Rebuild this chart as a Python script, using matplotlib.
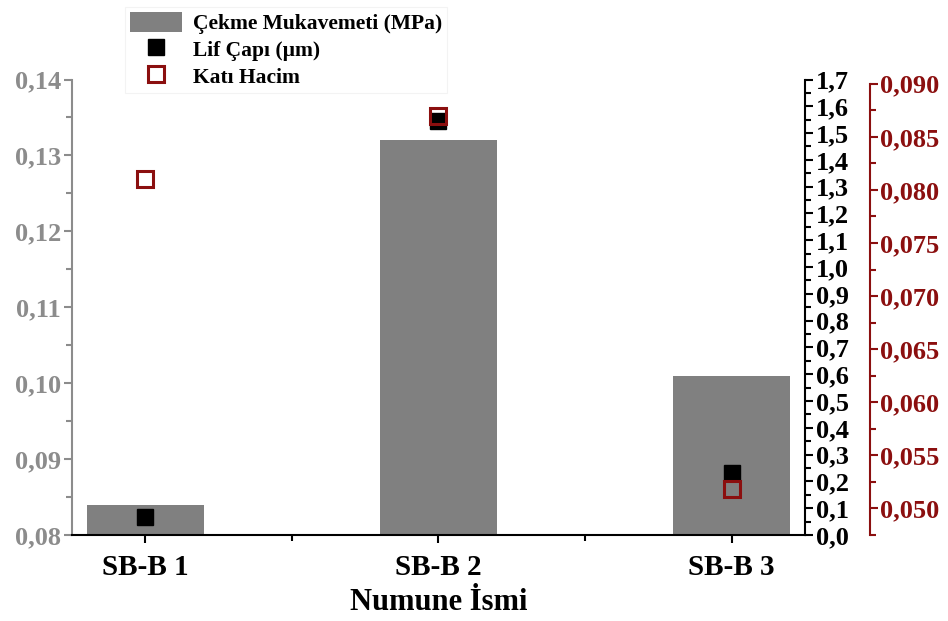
import matplotlib
matplotlib.use("Agg")
import matplotlib.pyplot as plt
from matplotlib.patches import Patch
from matplotlib.lines import Line2D
from matplotlib.ticker import MultipleLocator, FuncFormatter

# numune verileri
numuneler = ["SB-B 1", "SB-B 2", "SB-B 3"]
cekme_mukavemeti = [0.084, 0.132, 0.101]   # MPa
lif_capi = [0.068, 1.545, 0.232]          # um
kati_hacim = [0.0810, 0.0870, 0.0518]

plt.rcParams["font.family"] = ["Liberation Serif", "DejaVu Serif"]
plt.rcParams["font.weight"] = "bold"

GRI = "#8c8c8c"
BAR = "#808080"
KIRMIZI = "#8b0f0f"
FS = 19


def virgul(fmt):
    return FuncFormatter(lambda v, p: (fmt % v).replace(".", ","))


fig = plt.figure(figsize=(9.48, 6.21), dpi=100)
ax = fig.add_axes([72 / 948, 1 - 535 / 621, (805 - 72) / 948, (535 - 79.5) / 621])
ax2 = ax.twinx()
ax3 = ax.twinx()

x = range(1, len(numuneler) + 1)
ax.bar(x, cekme_mukavemeti, width=0.4, color=BAR, zorder=1)
ax.set_xlim(0.75, 3.25)
ax.set_ylim(0.08, 0.14)
ax.set_xticks(list(x))
ax.set_xticklabels(numuneler, fontsize=21, fontweight="bold")
ax.xaxis.set_minor_locator(MultipleLocator(0.5))
ax.set_xlabel("Numune İsmi", fontsize=22, fontweight="bold", labelpad=5)

ax.yaxis.set_major_locator(MultipleLocator(0.01))
ax.yaxis.set_minor_locator(MultipleLocator(0.005))
ax.yaxis.set_major_formatter(virgul("%.2f"))
ax.tick_params(axis="y", which="both", colors=GRI, width=1.5)
ax.tick_params(axis="y", labelcolor=GRI, labelsize=FS, pad=2)
ax.tick_params(axis="x", which="both", width=1.5, pad=8)
ax.tick_params(which="major", length=6)
ax.tick_params(which="minor", length=4)
ax.spines["left"].set_color(GRI)
ax.spines["left"].set_linewidth(1.5)
ax.spines["bottom"].set_linewidth(1.5)
ax.spines["top"].set_visible(False)
ax.spines["right"].set_visible(False)

# lif çapı ekseni
ax2.plot(x, lif_capi, ls="none", marker="s", ms=12, color="black", zorder=2)
ax2.set_ylim(0, 1.7)
ax2.yaxis.set_major_locator(MultipleLocator(0.1))
ax2.yaxis.set_minor_locator(MultipleLocator(0.05))
ax2.yaxis.set_major_formatter(virgul("%.1f"))
ax2.tick_params(axis="y", which="both", width=1.5, labelsize=FS, pad=2)
ax2.tick_params(which="major", length=6)
ax2.tick_params(which="minor", length=4)
ax2.spines["right"].set_linewidth(1.5)
for s in ["top", "left", "bottom"]:
    ax2.spines[s].set_visible(False)

# katı hacim ekseni
ax3.plot(x, kati_hacim, ls="none", marker="s", ms=12, mfc="none",
         mec=KIRMIZI, mew=2.2, zorder=3)
ax3.set_ylim(0.0475, 0.0904)
ax3.spines["right"].set_position(("outward", 47))
ax3.spines["right"].set_color(KIRMIZI)
ax3.spines["right"].set_linewidth(1.5)
ax3.spines["right"].set_bounds(0.0475, 0.090)
for s in ["top", "left", "bottom"]:
    ax3.spines[s].set_visible(False)
ax3.yaxis.set_major_locator(MultipleLocator(0.005))
ax3.yaxis.set_minor_locator(MultipleLocator(0.0025))
ax3.yaxis.set_major_formatter(virgul("%.3f"))
ax3.tick_params(axis="y", which="both", colors=KIRMIZI, width=1.5, labelsize=FS, pad=1)
ax3.tick_params(which="major", length=6)
ax3.tick_params(which="minor", length=4)

for a in (ax, ax2, ax3):
    for t in a.get_yticklabels():
        t.set_fontweight("bold")

handles = [
    Patch(facecolor=BAR, edgecolor="none"),
    Line2D([], [], ls="none", marker="s", ms=12, color="black"),
    Line2D([], [], ls="none", marker="s", ms=12, mfc="none", mec=KIRMIZI, mew=2.2),
]
labels = ["Çekme Mukavemeti (MPa)", "Lif Çapı (µm)", "Katı Hacim"]
leg = fig.legend(handles, labels, loc="upper left", bbox_to_anchor=(114 / 948, 1 + 4 / 621),
                 prop={"size": 15.5, "weight": "bold"}, frameon=True, fancybox=False,
                 handlelength=2.4, handleheight=1.05, handletextpad=0.5,
                 labelspacing=0.2, borderpad=0.25)
leg.get_frame().set_edgecolor("#f0f0f0")
leg.get_frame().set_linewidth(0.8)

fig.savefig("out.png", dpi=100)
